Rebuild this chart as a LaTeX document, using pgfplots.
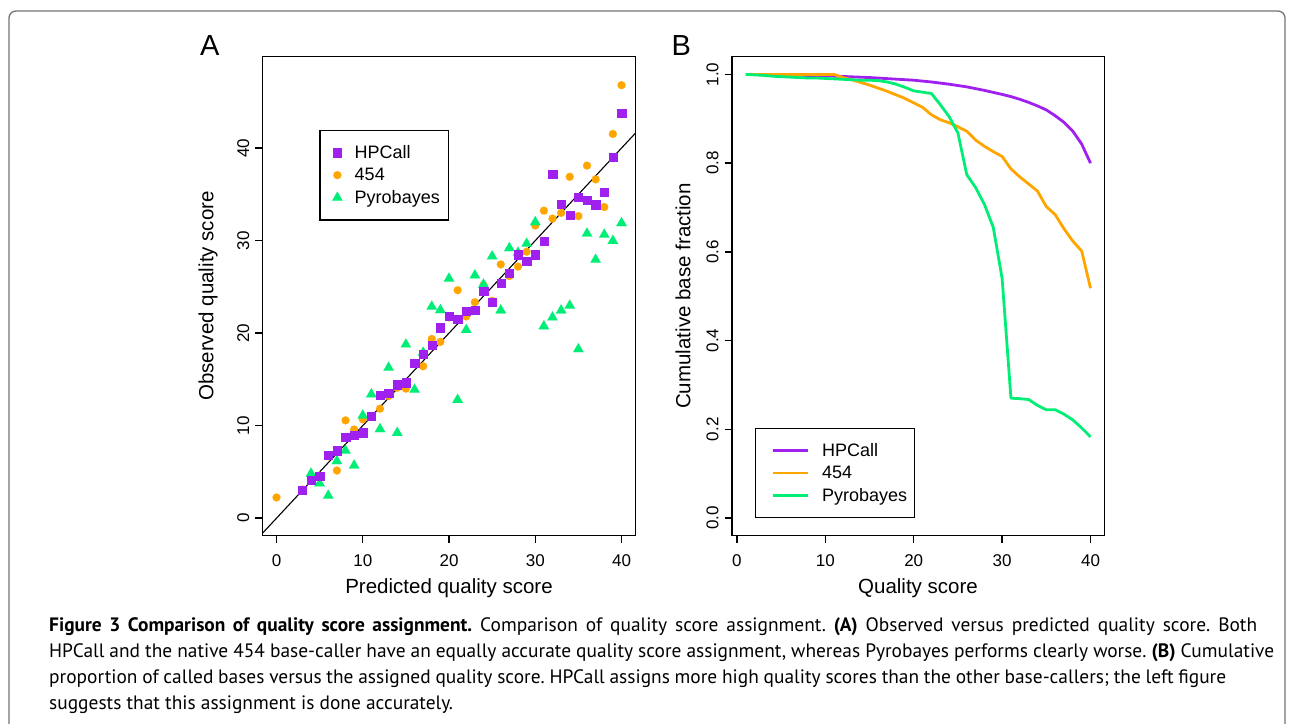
\documentclass[border=0pt]{standalone}
\usepackage{pgfplots}
\pgfplotsset{compat=1.18}
\usepackage{fontspec}
\setmainfont{Liberation Sans}
\newfontfamily\capfont{PT Sans}
\definecolor{hpc}{HTML}{A020F0}
\definecolor{ff}{HTML}{FFA500}
\definecolor{pyro}{HTML}{00EE76}
\frenchspacing

\pgfplotsset{
  rplot/.style={
    scale only axis,
    tick pos=left, tick align=outside,
    major tick length=7.5pt,
    axis line style={line width=1.4pt},
    tick style={black, line width=1.4pt},
    /pgf/number format/assume math mode=true,
    tick label style={font=\fontsize{17}{17}\selectfont},
    xticklabel shift=8pt,
    yticklabel style={rotate=90, anchor=south},
    yticklabel shift=2.5pt,
    legend style={draw=black, line width=1.2pt, font=\fontsize{18}{18}\selectfont,
      nodes={inner sep=0pt}, cells={anchor=west},
      inner ysep=15pt, row sep=8.3pt},
  },
  hpcmark/.style={only marks, mark=square*, mark size=4.15pt, line width=0.1pt,
    mark options={fill=hpc, draw=hpc}},
  ffmark/.style={only marks, mark=*, mark size=4pt, line width=0.1pt,
    mark options={fill=ff, draw=ff}},
  pyromark/.style={only marks, mark=triangle*, mark size=6pt, line width=0.1pt,
    mark options={fill=pyro, draw=pyro}},
}

\begin{document}
\begin{tikzpicture}
\path[use as bounding box] (0pt,0pt) rectangle (1293pt,-723pt);
\draw[black!55, line width=1.3pt, rounded corners=7pt]
  (9pt,-760pt) -- (9pt,-11pt) -- (1285pt,-11pt) -- (1285pt,-760pt);

% panel A
\begin{axis}[rplot,
  at={(262.7pt,-535.3pt)}, anchor=south west,
  width=372.6pt, height=478.8pt,
  xmin=-1.6, xmax=41.6, ymin=-1.85, ymax=49.9,
  xtick={0,10,20,30,40}, ytick={0,10,20,30,40},
  legend style={at={(0.152,0.847)}, anchor=north west,
    inner xsep=8.9pt, column sep=8.8pt},
  legend image code/.code={\path (-8.5pt,0pt) (8.5pt,0pt);
    \draw[#1] plot coordinates {(0pt,0pt)};},
]
\addlegendimage{hpcmark}
\addlegendimage{ffmark}
\addlegendimage{pyromark}
\addplot[black, line width=1.1pt, forget plot] coordinates {(-5,-5) (55,55)};
% 454
\addplot[ffmark, forget plot] coordinates {
(0,2.24) (3,3.1) (4,4.2) (5,4.6) (6,6.7) (7,5.15) (8,10.57) (9,9.59)
(10,10.69) (11,11.0) (12,11.83) (13,13.2) (14,14.1) (15,14.0) (16,16.66)
(17,16.42) (18,19.37) (19,19.06) (20,21.7) (21,24.64) (22,21.8) (23,23.34)
(24,25.19) (25,23.5) (26,27.43) (27,26.17) (28,27.19) (29,28.8) (30,31.63)
(31,33.24) (32,32.38) (33,33.0) (34,36.9) (35,32.65) (36,38.11) (37,36.62)
(38,33.63) (39,41.53) (40,46.8)
};
% Pyrobayes
\addplot[pyromark, forget plot] coordinates {
(4,4.83) (5,3.77) (6,2.44) (7,6.17) (8,7.3) (9,5.7) (10,11.1) (11,13.4)
(12,9.63) (13,16.27) (14,9.23) (15,18.78) (16,13.9) (17,17.9) (18,22.87)
(19,22.5) (20,25.9) (21,12.8) (22,20.35) (23,26.25) (24,25.26) (25,28.3)
(26,22.47) (27,29.2) (28,28.7) (29,29.67) (30,32.0) (31,20.75) (32,21.7)
(33,22.47) (34,22.98) (35,18.27) (36,30.77) (37,27.94) (38,30.65)
(39,29.98) (40,31.9)
};
% HPCall
\addplot[hpcmark, forget plot] coordinates {
(3,3.06) (4,4.1) (5,4.56) (6,6.8) (7,7.3) (8,8.76) (9,8.96) (10,9.27)
(11,11.04) (12,13.3) (13,13.5) (14,14.46) (15,14.66) (16,16.8) (17,17.76)
(18,18.7) (19,20.6) (20,21.85) (21,21.5) (22,22.36) (23,22.48) (24,24.56)
(25,23.38) (26,25.42) (27,26.5) (28,28.5) (29,27.8) (30,28.5) (31,29.94)
(32,37.17) (33,33.95) (34,32.73) (35,34.73) (36,34.38) (37,33.9) (38,35.25)
(39,39.0) (40,43.77)
};
\legend{HPCall\vphantom{Py}, 454\vphantom{Py}, Pyrobayes}
\end{axis}

% panel B
\begin{axis}[rplot,
  at={(732pt,-535.7pt)}, anchor=south west,
  width=372.3pt, height=479pt,
  xmin=-0.56, xmax=41.56, ymin=-0.04, ymax=1.04,
  xtick={0,10,20,30,40}, ytick={0,0.2,0.4,0.6,0.8,1.0},
  yticklabel style={/pgf/number format/.cd, fixed, fixed zerofill, precision=1},
  legend style={at={(0.061,0.0363)}, anchor=south west,
    inner xsep=7.6pt, column sep=13pt},
  legend image code/.code={\path (-8.4pt,0pt); \draw[#1] (0pt,0pt) -- (35pt,0pt);},
]
\addplot[hpc, line width=2.8pt, line join=round] coordinates {
(1,1.0) (5,0.999) (10,0.997) (15,0.993) (20,0.987) (22,0.983) (24,0.978)
(26,0.972) (28,0.964) (30,0.955) (31,0.950) (32,0.944) (33,0.937)
(34,0.929) (35,0.920) (36,0.907) (37,0.892) (38,0.872) (39,0.843) (40,0.80)
};
\addplot[ff, line width=2.8pt, line join=round] coordinates {
(1,1.0) (11,1.0) (12,0.993) (13,0.988) (14,0.982) (15,0.976) (16,0.969)
(17,0.962) (18,0.954) (19,0.946) (20,0.936) (21,0.926) (22,0.909)
(23,0.898) (24,0.891) (25,0.882) (26,0.872) (27,0.852) (28,0.838)
(29,0.826) (30,0.815) (31,0.787) (32,0.769) (33,0.753) (34,0.737)
(35,0.702) (36,0.684) (37,0.652) (38,0.624) (39,0.602) (40,0.518)
};
\addplot[pyro, line width=2.8pt, line join=round] coordinates {
(1,1.0) (2,0.999) (3,0.998) (4,0.996) (5,0.995) (6,0.994) (7,0.993)
(8,0.992) (9,0.992) (10,0.991) (11,0.990) (12,0.989) (13,0.988)
(14,0.987) (15,0.987) (16,0.986) (17,0.983) (18,0.978) (19,0.971)
(20,0.963) (21,0.960) (22,0.957) (23,0.932) (24,0.905) (25,0.868)
(26,0.774) (27,0.745) (28,0.707) (29,0.655) (30,0.540) (31,0.270)
(32,0.269) (33,0.267) (34,0.254) (35,0.244) (36,0.244) (37,0.234)
(38,0.221) (39,0.203) (40,0.183)
};
\legend{HPCall\vphantom{Py}, 454\vphantom{Py}, Pyrobayes}
\end{axis}

% axis titles and panel letters
\begin{scope}[font=\fontsize{20.5}{20.5}\selectfont]
\node[anchor=base] at (449pt,-593.4pt) {Predicted quality score};
\node[anchor=base] at (918pt,-593.4pt) {Quality score};
\node[rotate=90] at (208pt,-296pt) {Observed quality score};
\node[rotate=90] at (683pt,-296pt) {Cumulative base fraction};
\end{scope}
\node[anchor=base west, inner sep=0pt, font=\fontsize{29}{29}\selectfont] at (200pt,-55.5pt) {A};
\node[anchor=base west, inner sep=0pt, font=\fontsize{29}{29}\selectfont] at (671.5pt,-55.7pt) {B};

% caption
\begin{scope}[font=\capfont\fontsize{19.4}{19.4}\selectfont]
\node[anchor=base west, inner sep=0pt] at (49pt,-631pt) {\makebox[1208pt][s]{\textbf{Figure 3 Comparison of quality score assignment.} Comparison of quality score assignment. \textbf{(A)} Observed versus predicted quality score. Both}};
\node[anchor=base west, inner sep=0pt] at (49pt,-657pt) {\makebox[1225pt][s]{HPCall and the native 454 base-caller have an equally accurate quality score assignment, whereas Pyrobayes performs clearly worse. \textbf{(B)} Cumulative}};
\node[anchor=base west, inner sep=0pt] at (49pt,-683pt) {\makebox[1177pt][s]{proportion of called bases versus the assigned quality score. HPCall assigns more high quality scores than the other base-callers; the left figure}};
\node[anchor=base west, inner sep=0pt] at (49pt,-709pt) {suggests that this assignment is done accurately.};
\end{scope}
\end{tikzpicture}
\end{document}
